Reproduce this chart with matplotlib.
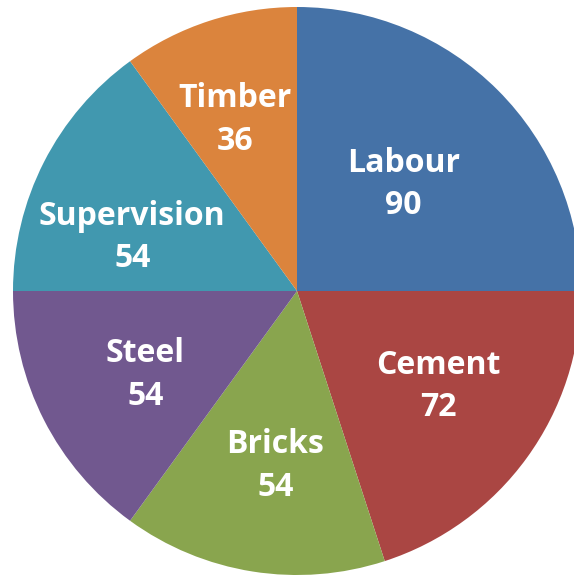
import matplotlib
matplotlib.use('Agg')
import matplotlib.pyplot as plt
import numpy as np

# Cost items of a building project (in degrees of the pie)
items = ['Labour', 'Cement', 'Bricks', 'Steel', 'Supervision', 'Timber']
degrees = [90, 72, 54, 54, 54, 36]
colors = ['#4572A7', '#AA4643', '#89A54E', '#71588F', '#4198AF', '#DB843D']
label_r = [0.53, 0.6, 0.62, 0.61, 0.61, 0.64]   # label distance from centre
label_shift = [0, 2, 2, 2, 9, 2]                 # best-fit angle nudge (deg)

fig = plt.figure(figsize=(5.74, 5.75), dpi=100)
R = 284
cx, cy = 297, 575 - 291
ax = fig.add_axes([(cx - R) / 574, (cy - R) / 575, 2 * R / 574, 2 * R / 575])

wedges, _ = ax.pie(degrees, colors=colors, startangle=90, counterclock=False,
                   radius=1, wedgeprops=dict(linewidth=0))

for w, name, val, r, s in zip(wedges, items, degrees, label_r, label_shift):
    ang = np.radians((w.theta1 + w.theta2) / 2 + s)
    ax.text(r * np.cos(ang), r * np.sin(ang), f'{name}\n{val}',
            ha='center', va='center', color='white', fontsize=23,
            fontweight='bold', family='Open Sans', linespacing=1.38)

ax.set_xlim(-1, 1)
ax.set_ylim(-1, 1)
ax.set_aspect('equal')
ax.axis('off')

fig.savefig('out.png', dpi=100)
